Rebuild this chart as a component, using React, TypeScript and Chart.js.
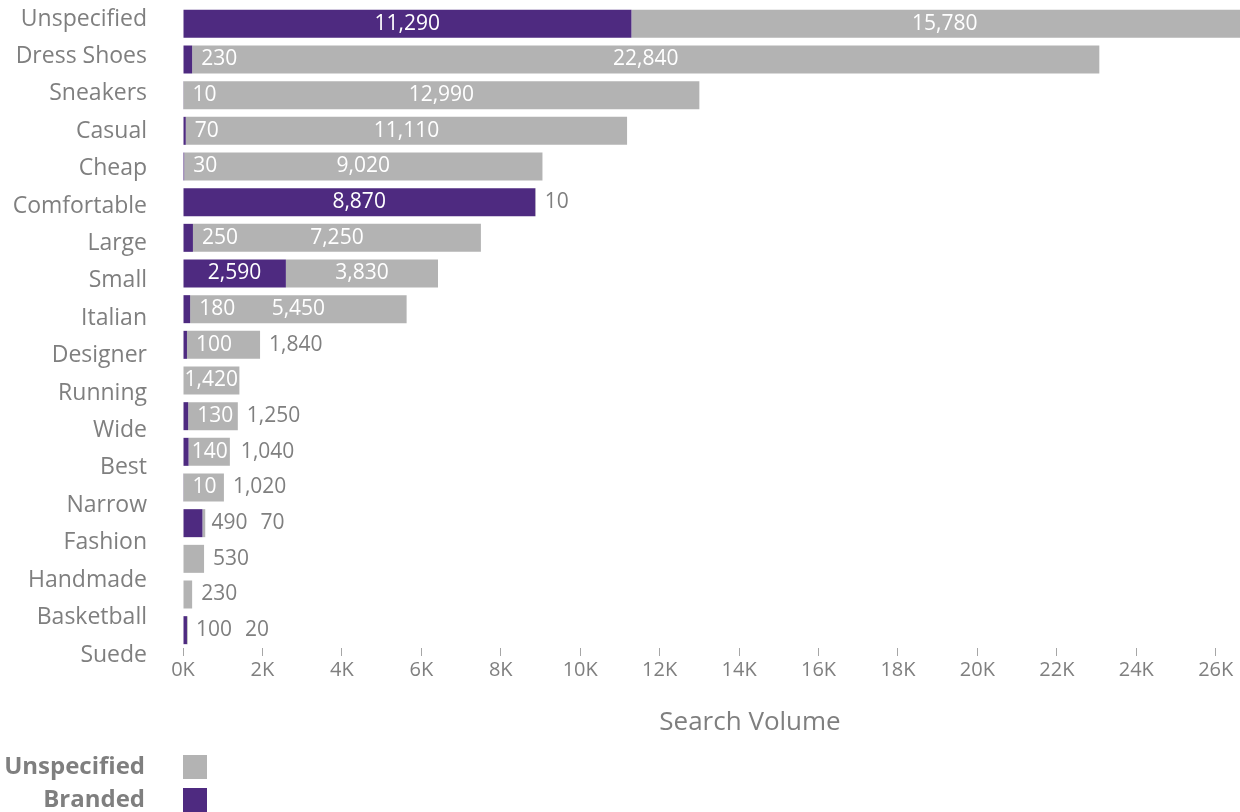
import React, { useEffect, useRef } from 'react';
import { Chart, registerables } from 'chart.js';

Chart.register(...registerables);

const categories = [
  'Unspecified', 'Dress Shoes', 'Sneakers', 'Casual', 'Cheap', 'Comfortable',
  'Large', 'Small', 'Italian', 'Designer', 'Running', 'Wide', 'Best',
  'Narrow', 'Fashion', 'Handmade', 'Basketball', 'Suede',
];
const branded = [11290, 230, 10, 70, 30, 8870, 250, 2590, 180, 100, 0, 130, 140, 10, 490, 0, 0, 100];
const unspecified = [15780, 22840, 12990, 11110, 9020, 10, 7250, 3830, 5450, 1840, 1420, 1250, 1040, 1020, 70, 530, 230, 20];
const xTickValues = [0, 2000, 4000, 6000, 8000, 10000, 12000, 14000, 16000, 18000, 20000, 22000, 24000, 26000];
const xMax = 28550;
const axisTitle = 'Search Volume';

const PURPLE = '#4e2a80';
const GRAY_BAR = '#b3b3b3';
const TEXT_GRAY = '#7f7f7f';
const FONT = "'Open Sans', sans-serif";

const fmt = (v: number) => v.toLocaleString('en-US');

const dataLabelPlugin = {
  id: 'segLabels',
  afterDatasetsDraw(chart: any) {
    const { ctx } = chart;
    const xs = chart.scales.x;
    const metas = chart.data.datasets.map((_: any, i: number) => chart.getDatasetMeta(i));
    ctx.save();
    ctx.font = `21px ${FONT}`;
    ctx.textBaseline = 'middle';
    const n = chart.data.labels.length;
    for (let i = 0; i < n; i++) {
      let cum = 0;
      let total = 0;
      chart.data.datasets.forEach((d: any) => { total += d.data[i]; });
      const totalEnd = xs.getPixelForValue(total);
      let cursor = -Infinity;
      const y = metas[0].data[i].y;
      chart.data.datasets.forEach((d: any) => {
        const v = d.data[i];
        const start = xs.getPixelForValue(cum);
        cum += v;
        const end = xs.getPixelForValue(cum);
        if (v <= 0) return;
        const txt = fmt(v);
        const w = ctx.measureText(txt).width;
        const center = (start + end) / 2;
        if (end - start >= w && center - w / 2 >= cursor) {
          ctx.fillStyle = '#ffffff';
          ctx.textAlign = 'center';
          ctx.fillText(txt, center, y);
          cursor = center + w / 2 + 10;
        } else {
          let x = Math.max(end + 9, cursor);
          const inside = x + w / 2 < totalEnd;
          if (inside && x + w > totalEnd - 2) {
            x = Math.max(end + 3, totalEnd - 2 - w);
          }
          ctx.fillStyle = inside ? '#ffffff' : TEXT_GRAY;
          ctx.textAlign = 'left';
          ctx.fillText(txt, x, y);
          cursor = x + w + 13;
        }
      });
    }
    ctx.restore();
  },
};

const legendPlugin = {
  id: 'sideLegend',
  afterDraw(chart: any) {
    const { ctx, chartArea } = chart;
    const items = chart.data.datasets
      .map((d: any) => ({ label: d.label, color: d.backgroundColor }))
      .reverse();
    const box = 24;
    const tops = [chart.height - 57, chart.height - 24];
    ctx.save();
    ctx.font = `bold 24px ${FONT}`;
    ctx.textAlign = 'right';
    ctx.textBaseline = 'middle';
    items.forEach((it: any, k: number) => {
      const top = tops[k];
      ctx.fillStyle = it.color;
      ctx.fillRect(chartArea.left, top, box, box);
      ctx.fillStyle = TEXT_GRAY;
      ctx.fillText(it.label, chartArea.left - 38, top + box / 2);
    });
    ctx.restore();
  },
};

export default function App() {
  const ref = useRef<HTMLCanvasElement | null>(null);

  useEffect(() => {
    if (!ref.current) return;
    const chart = new Chart(ref.current, {
      type: 'bar',
      data: {
        labels: categories,
        datasets: [
          {
            label: 'Branded',
            data: branded,
            backgroundColor: PURPLE,
            categoryPercentage: 1,
            barPercentage: 0.785,
            borderWidth: 0,
          },
          {
            label: 'Unspecified',
            data: unspecified,
            backgroundColor: GRAY_BAR,
            categoryPercentage: 1,
            barPercentage: 0.785,
            borderWidth: 0,
          },
        ],
      },
      options: {
        indexAxis: 'y',
        responsive: false,
        animation: false,
        devicePixelRatio: 1,
        layout: { padding: { top: 6, left: 0, right: 0, bottom: 0 } },
        plugins: {
          legend: { display: false },
          tooltip: { enabled: false },
        },
        scales: {
          x: {
            type: 'linear',
            stacked: true,
            position: 'bottom',
            min: 0,
            max: xMax,
            bounds: 'data',
            grid: {
              drawOnChartArea: false,
              drawTicks: true,
              tickLength: 8,
              color: '#a6a6a6',
            },
            border: { display: false },
            afterBuildTicks: (s: any) => {
              s.ticks = xTickValues.map((v) => ({ value: v }));
            },
            ticks: {
              autoSkip: false,
              padding: 2,
              color: TEXT_GRAY,
              font: { family: FONT, size: 20 },
              maxRotation: 0,
              callback: (v: any) => `${Math.round(Number(v) / 1000)}K`,
            },
            title: {
              display: true,
              text: axisTitle,
              color: TEXT_GRAY,
              font: { family: FONT, size: 26 },
              padding: { top: 0, bottom: 74 },
            },
            afterFit: (s: any) => {
              s.height = 164;
              s.paddingLeft = 0;
              s.paddingRight = 0;
            },
          },
          y: {
            type: 'category',
            stacked: true,
            display: false,
          },
          yl: {
            type: 'linear',
            position: 'left',
            reverse: true,
            offset: false,
            min: -0.3475,
            max: 16.8125,
            bounds: 'data',
            grid: { display: false, drawTicks: false, offset: false },
            border: { display: false },
            afterBuildTicks: (s: any) => {
              s.ticks = categories.map((_, i) => ({ value: i }));
            },
            ticks: {
              autoSkip: false,
              padding: 36,
              color: TEXT_GRAY,
              font: { family: FONT, size: 23 },
              callback: (v: any) => categories[Math.round(Number(v))],
            },
            afterFit: (s: any) => {
              s.width = 183;
              s.paddingTop = 0;
              s.paddingBottom = 0;
            },
          },
        },
      } as any,
      plugins: [dataLabelPlugin, legendPlugin],
    });
    return () => chart.destroy();
  }, []);

  return (
    <div style={{ position: 'absolute', left: 0, top: 0, width: 1240, height: 812, overflow: 'hidden' }}>
      <canvas ref={ref} width={1317} height={812} style={{ display: 'block' }} />
    </div>
  );
}
